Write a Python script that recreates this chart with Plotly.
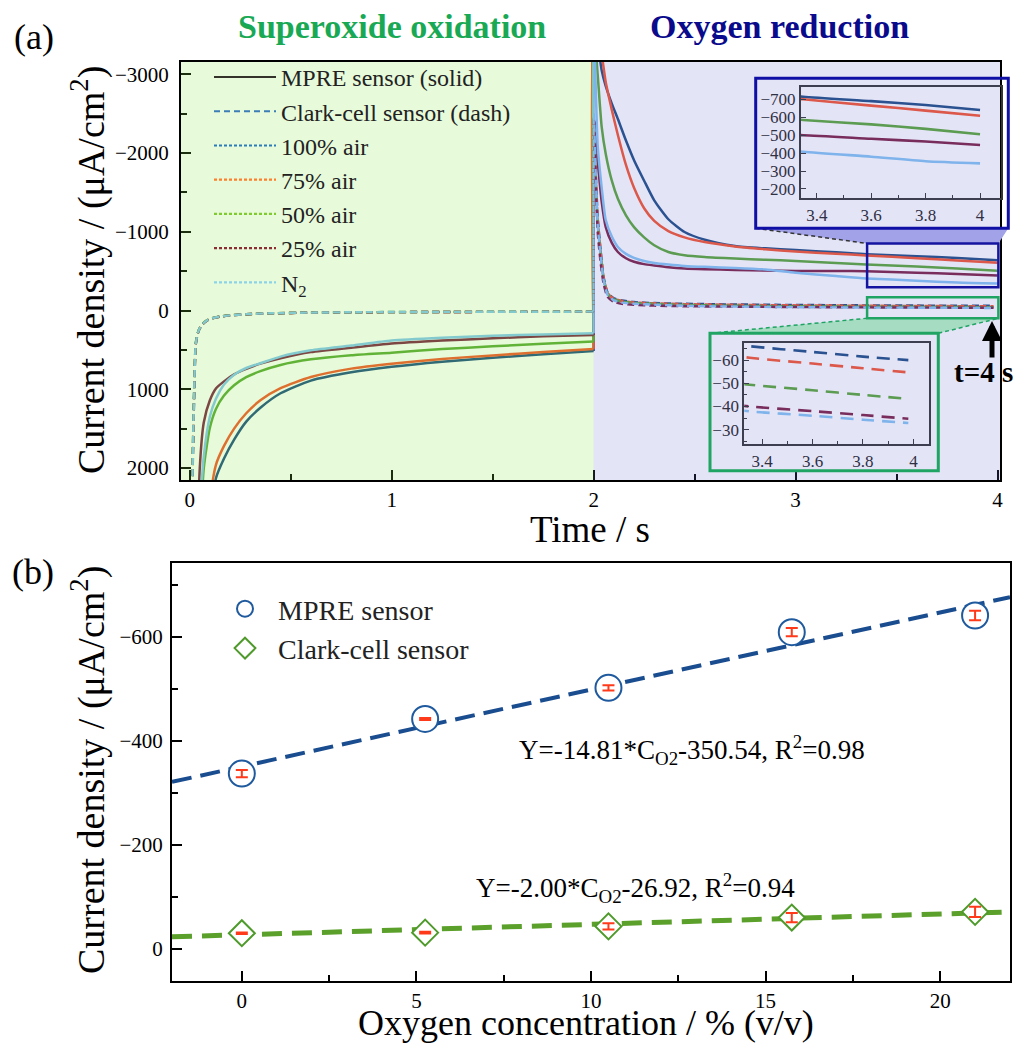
import plotly.graph_objects as go

W, H = 1013, 1045
def px(x): return x / W
def py(y): return 1 - y / H

# ---------------- panel (a) data : chronoamperometry ----------------
T_SOLID = [0.03, 0.05, 0.07, 0.10, 0.13, 0.17, 0.22, 0.28, 0.35, 0.45,
           0.60, 0.80, 1.00, 1.25, 1.50, 1.75, 2.00,
           2.001, 2.02, 2.04, 2.06, 2.09, 2.12, 2.16, 2.20, 2.25, 2.30,
           2.37, 2.45, 2.55, 2.70, 2.85, 3.00, 3.20, 3.35, 3.60, 3.80, 4.00]

MPRE_100 = [5000, 4500, 3800, 2800, 2130, 1880, 1640, 1411, 1235, 1051,
            890, 785, 715, 650, 600, 555, 513,
            -3600, -3400, -3050, -2850, -2630, -2433, -2160, -1910, -1650, -1400,
            -1160, -998, -900, -820, -790, -768, -740, -714, -690, -668, -640]
MPRE_75 = [5000, 4500, 3800, 2450, 1960, 1720, 1500, 1305, 1140, 987,
           845, 738, 675, 615, 570, 527, 487,
           -3600, -3500, -3250, -2900, -2550, -2230, -1850, -1560, -1300, -1140,
           -1010, -930, -870, -815, -780, -750, -722, -700, -665, -637, -608]
MPRE_50 = [5000, 3000, 2000, 1490, 1250, 1080, 950, 847, 770, 691,
           620, 568, 535, 490, 455, 422, 392,
           -3600, -3000, -2330, -1990, -1650, -1420, -1210, -1060, -930, -830,
           -744, -703, -680, -660, -645, -630, -605, -585, -560, -535, -505]
MPRE_25 = [4000, 2000, 1420, 1140, 990, 900, 810, 740, 675, 606,
           528, 472, 420, 382, 352, 328, 310,
           -2450, -1900, -1380, -1060, -860, -744, -665, -620, -590, -572,
           -550, -534, -525, -516, -508, -504, -502, -500, -480, -465, -445]
MPRE_N2 = [4000, 2600, 1850, 1347, 1120, 940, 815, 730, 670, 585,
           505, 445, 380, 345, 320, 303, 289,
           -3600, -2100, -1560, -1150, -940, -808, -720, -670, -630, -605,
           -585, -567, -555, -542, -522, -480, -438, -408, -380, -355, -343]

T_DASH = [0.000, 0.010, 0.020, 0.030, 0.040, 0.050, 0.065, 0.085, 0.110, 0.150,
          0.200, 0.280, 0.400, 0.600, 0.900, 1.300, 1.700, 2.000,
          2.001, 2.010, 2.020, 2.035, 2.050, 2.070, 2.100, 2.140, 2.200, 2.300,
          2.450, 2.650, 2.900, 3.150, 3.350, 3.600, 3.800, 3.980]

CLARK_100 = [3500, 2600, 1300, 430, 290, 225, 170, 127, 100, 78,
             62, 47, 36, 27, 21, 18, 16, 15,
             -2450, -1800, -1200, -760, -420, -225, -156, -128, -108, -95,
             -86, -79, -73, -69, -66, -63.5, -61.5, -60]
CLARK_75 = [3500, 2550, 1250, 420, 285, 222, 168, 126, 99, 77,
            61, 46, 35, 27, 21, 18, 16, 15,
            -2400, -1750, -1150, -740, -410, -220, -150, -122, -104, -92,
            -82, -75, -68, -64, -61, -58.5, -56.5, -54.7]
CLARK_50 = [3500, 2500, 1200, 410, 282, 220, 166, 125, 98, 76,
            60, 46, 35, 26, 20, 17, 15, 14,
            -2350, -1700, -1100, -720, -400, -210, -142, -114, -97, -85,
            -72, -63, -56, -52, -49.4, -47, -45, -43.3]
CLARK_25 = [3500, 2650, 1350, 440, 295, 228, 172, 129, 101, 78,
            62, 47, 36, 27, 21, 18, 16, 15,
            -2450, -1650, -1000, -600, -330, -170, -110, -85, -72, -62,
            -55, -50, -46, -42.5, -40, -38, -36.3, -34.7]
CLARK_N2 = [3500, 2600, 1280, 425, 288, 224, 169, 126, 99, 77,
            61, 46, 35, 26, 20, 17, 15, 14,
            -2500, -1750, -1100, -680, -380, -195, -130, -100, -86, -75,
            -60, -52, -45, -40.5, -37.9, -36, -34.3, -32.9]

GAS_LABELS = ["100% air", "75% air", "50% air", "25% air", "N<sub>2</sub>"]
CURVE_COLORS = ["#1b4b80", "#f4532a", "#58a734", "#7a1e42", "#83c3f0"]
LEGEND_COLORS = ["#2b7bb9", "#ff7f2a", "#7fcc2e", "#8c2d32", "#8dd3e8"]
SOLID_SERIES = [MPRE_100, MPRE_75, MPRE_50, MPRE_25, MPRE_N2]
DASH_SERIES = [CLARK_100, CLARK_75, CLARK_50, CLARK_25, CLARK_N2]
STEP_T = 2.0   # potential step time (s)

# ---------------- panel (b) data : calibration ----------------
O2_CONC = [0, 5.25, 10.5, 15.75, 21]
MPRE_J = [-337, -442, -502, -609, -641]
MPRE_ERR = [7, 2, 5, 8, 9]
CLARK_J = [-30, -31, -43, -60, -71]
CLARK_ERR = [1.5, 1.5, 6, 9, 10]
FIT_X = [-2, 22]
MPRE_FIT = (-14.81, -350.54)   # slope, intercept
CLARK_FIT = (-2.00, -26.92)

# ---------------- geometry ----------------
XR_A = [-0.043, 4.012]
YR_A = [2153, -3158]
XDOM_A = [px(181), px(1000)]
YDOM_A = [py(480), py(62)]
ZOOM_T = [3.354, 4.004]
ZOOM1_J = [-853, -295]
ZOOM2_J = [-169, 98]

def d2p_x(t):
    return XDOM_A[0] + (t - XR_A[0]) / (XR_A[1] - XR_A[0]) * (XDOM_A[1] - XDOM_A[0])

def d2p_y(v):
    return YDOM_A[0] + (v - YR_A[0]) / (YR_A[1] - YR_A[0]) * (YDOM_A[1] - YDOM_A[0])

def split(ts, ys):
    """left branch (t<=step) and right branch (starting from the last left point)"""
    k = max(i for i, t in enumerate(ts) if t <= STEP_T)
    return (ts[:k + 1], ys[:k + 1]), (ts[k:], ys[k:])

FONT = "Liberation Serif"
fig = go.Figure()

def add_curve(ts, ys, col, width, dash, xa, ya):
    for seg_t, seg_y in split(ts, ys):
        fig.add_trace(go.Scatter(x=seg_t, y=seg_y, mode="lines", xaxis=xa, yaxis=ya,
                                 line=dict(color=col, width=width, dash=dash,
                                           shape="spline", smoothing=0.6),
                                 showlegend=False, hoverinfo="skip"))

for ys, col in zip(SOLID_SERIES, CURVE_COLORS):
    add_curve(T_SOLID, ys, col, 2.5, "solid", "x", "y")
for ys, col in zip(DASH_SERIES, CURVE_COLORS):
    add_curve(T_DASH, ys, col, 2.4, "7px,4px", "x", "y")
for ys, col in zip(SOLID_SERIES, CURVE_COLORS):
    add_curve(T_SOLID, ys, col, 2.6, "solid", "x3", "y3")
for ys, col in zip(DASH_SERIES, CURVE_COLORS):
    add_curve(T_DASH, ys, col, 2.6, "13px,8px", "x4", "y4")

# legend entries of panel (a)
fig.add_trace(go.Scatter(x=[None], y=[None], mode="lines", xaxis="x", yaxis="y",
                         name="MPRE sensor (solid)", line=dict(color="#33332a", width=2),
                         legend="legend"))
fig.add_trace(go.Scatter(x=[None], y=[None], mode="lines", xaxis="x", yaxis="y",
                         name="Clark-cell sensor (dash)",
                         line=dict(color="#3d7db5", width=2, dash="6px,4px"),
                         legend="legend"))
for lab, col in zip(GAS_LABELS, LEGEND_COLORS):
    fig.add_trace(go.Scatter(x=[None], y=[None], mode="lines", xaxis="x", yaxis="y",
                             name=lab, line=dict(color=col, width=2.2, dash="3px,2px"),
                             legend="legend"))

# ---------------- panel (b) traces ----------------
fig.add_trace(go.Scatter(x=FIT_X, y=[MPRE_FIT[0] * x + MPRE_FIT[1] for x in FIT_X],
                         mode="lines", xaxis="x2", yaxis="y2", showlegend=False,
                         line=dict(color="#1a4d8f", width=4, dash="20px,9px"),
                         hoverinfo="skip"))
fig.add_trace(go.Scatter(x=FIT_X, y=[CLARK_FIT[0] * x + CLARK_FIT[1] for x in FIT_X],
                         mode="lines", xaxis="x2", yaxis="y2", showlegend=False,
                         line=dict(color="#5ba02a", width=5, dash="20px,10px"),
                         hoverinfo="skip"))
fig.add_trace(go.Scatter(x=O2_CONC, y=MPRE_J, mode="markers", xaxis="x2", yaxis="y2",
                         name="MPRE sensor", legend="legend2",
                         marker=dict(symbol="circle", size=26, color="white",
                                     line=dict(color="#1f5a9e", width=2))))
fig.add_trace(go.Scatter(x=O2_CONC, y=CLARK_J, mode="markers", xaxis="x2", yaxis="y2",
                         name="Clark-cell sensor", legend="legend2",
                         marker=dict(symbol="diamond", size=20, color="white",
                                     line=dict(color="#4e9a2a", width=2))))
for ys, es in ((MPRE_J, MPRE_ERR), (CLARK_J, CLARK_ERR)):
    fig.add_trace(go.Scatter(x=O2_CONC, y=ys, mode="markers", xaxis="x2", yaxis="y2",
                             showlegend=False, hoverinfo="skip",
                             marker=dict(size=1, opacity=0),
                             error_y=dict(type="data", array=es, visible=True,
                                          color="#ff3a1a", thickness=2, width=6)))

# ---------------- axes ----------------
def main_axis(**kw):
    d = dict(showline=True, linecolor="black", linewidth=2, mirror=True,
             ticks="inside", ticklen=10, tickwidth=1.5, tickcolor="black",
             showgrid=False, zeroline=False, automargin=False,
             tickfont=dict(family=FONT, size=21, color="black"))
    d.update(kw)
    return d

def inset_axis(**kw):
    d = dict(showline=True, linecolor="#333333", linewidth=2, mirror=True,
             ticks="inside", ticklen=5, tickwidth=1.2, tickcolor="#333333",
             showgrid=False, zeroline=False, automargin=False,
             tickfont=dict(family=FONT, size=17, color="#222222"))
    d.update(kw)
    return d

layout_axes = dict(
    xaxis=main_axis(domain=XDOM_A, range=XR_A, anchor="y", dtick=1, tick0=0,
                    minor=dict(dtick=0.5, tick0=0, ticks="inside", ticklen=6,
                               tickwidth=1.5, tickcolor="black")),
    yaxis=main_axis(domain=YDOM_A, range=YR_A, anchor="x", dtick=1000, tick0=0,
                    ticklabelstandoff=6,
                    minor=dict(dtick=500, tick0=0, ticks="inside", ticklen=6,
                               tickwidth=1.5, tickcolor="black")),
    xaxis2=main_axis(domain=[px(172), px(1010)], range=[-2, 22], anchor="y2",
                     dtick=5, tick0=0,
                     minor=dict(dtick=2.5, tick0=0, ticks="inside", ticklen=6,
                                tickwidth=1.5, tickcolor="black")),
    yaxis2=main_axis(domain=[py(981), py(563)], range=[62, -742], anchor="x2",
                     dtick=200, tick0=0, ticklabelstandoff=3,
                     minor=dict(dtick=100, tick0=0, ticks="inside", ticklen=6,
                                tickwidth=1.5, tickcolor="black")),
    xaxis3=inset_axis(domain=[px(801), px(1001)], range=[3.342, 4.077], anchor="y3",
                      dtick=0.2, tick0=3.4,
                      minor=dict(dtick=0.1, tick0=3.4, ticks="inside", ticklen=3,
                                 tickcolor="#333333")),
    yaxis3=inset_axis(domain=[py(198.3), py(87.3)], range=[-148, -767], anchor="x3",
                      dtick=100, tick0=0),
    xaxis4=inset_axis(domain=[px(744.3), px(929)], range=[3.329, 4.062], anchor="y4",
                      dtick=0.2, tick0=3.4,
                      minor=dict(dtick=0.1, tick0=3.4, ticks="inside", ticklen=3,
                                 tickcolor="#333333")),
    yaxis4=inset_axis(domain=[py(444.3), py(342.7)], range=[-23.7, -67.5], anchor="x4",
                      dtick=10, tick0=0,
                      minor=dict(dtick=5, tick0=0, ticks="inside", ticklen=3,
                                 tickcolor="#333333")),
)

# ---------------- shapes ----------------
shapes = [
    dict(type="rect", xref="x", yref="y domain", x0=XR_A[0], x1=STEP_T, y0=0, y1=1,
         fillcolor="rgba(135,230,70,0.2)", line=dict(width=0), layer="above"),
    dict(type="rect", xref="x", yref="y domain", x0=STEP_T, x1=XR_A[1], y0=0, y1=1,
         fillcolor="rgba(110,110,215,0.19)", line=dict(width=0), layer="above"),
]
b_path = (f"M {px(755.7)},{py(228.3)} L {px(1008.3)},{py(228.3)} "
          f"L {d2p_x(ZOOM_T[1])},{d2p_y(ZOOM1_J[0])} L {d2p_x(ZOOM_T[0])},{d2p_y(ZOOM1_J[0])} Z")
shapes.append(dict(type="path", xref="paper", yref="paper", path=b_path,
                   fillcolor="#a2a2e8", line=dict(width=0), layer="above"))
shapes.append(dict(type="line", xref="paper", yref="paper", x0=px(755.7), y0=py(228.3),
                   x1=d2p_x(ZOOM_T[0]), y1=d2p_y(ZOOM1_J[0]),
                   line=dict(color="#333333", width=1.5, dash="4px,3px"), layer="above"))
g_path = (f"M {d2p_x(ZOOM_T[0])},{d2p_y(ZOOM2_J[1])} L {d2p_x(ZOOM_T[1])},{d2p_y(ZOOM2_J[1])} "
          f"L {px(938.3)},{py(333.3)} L {px(710)},{py(333.3)} Z")
shapes.append(dict(type="path", xref="paper", yref="paper", path=g_path,
                   fillcolor="#a6dcc2", line=dict(width=0), layer="above"))
shapes.append(dict(type="line", xref="paper", yref="paper", x0=px(710), y0=py(333.3),
                   x1=d2p_x(ZOOM_T[0]), y1=d2p_y(ZOOM2_J[1]),
                   line=dict(color="#1fa463", width=1.5, dash="4px,3px"), layer="above"))
shapes.append(dict(type="line", xref="paper", yref="paper", x0=px(938.3), y0=py(333.3),
                   x1=d2p_x(ZOOM_T[1]), y1=d2p_y(ZOOM2_J[1]),
                   line=dict(color="#1fa463", width=1.5, dash="4px,3px"), layer="above"))
shapes.append(dict(type="rect", xref="x", yref="y", x0=ZOOM_T[0], x1=ZOOM_T[1],
                   y0=ZOOM1_J[0], y1=ZOOM1_J[1], line=dict(color="#1414a0", width=2.5),
                   layer="above"))
shapes.append(dict(type="rect", xref="x", yref="y", x0=ZOOM_T[0], x1=ZOOM_T[1],
                   y0=ZOOM2_J[0], y1=ZOOM2_J[1], line=dict(color="#1fa463", width=2.5),
                   layer="above"))
shapes.append(dict(type="rect", xref="paper", yref="paper", x0=px(755.7), x1=px(1008.3),
                   y0=py(228.3), y1=py(78.3), line=dict(color="#0f0fa5", width=3),
                   layer="above"))
shapes.append(dict(type="rect", xref="paper", yref="paper", x0=px(710), x1=px(938.3),
                   y0=py(470.7), y1=py(333.3), line=dict(color="#1fa463", width=3),
                   layer="above"))

# ---------------- annotations ----------------
def txt(text, x, y, size, color="black", bold=False, angle=0, xanchor="center"):
    return dict(text=f"<b>{text}</b>" if bold else text, x=px(x), y=py(y),
                xref="paper", yref="paper", showarrow=False, textangle=angle,
                xanchor=xanchor, yanchor="middle",
                font=dict(family=FONT, size=size, color=color))

annotations = [
    txt("(a)", 34, 37, 36),
    txt("(b)", 33, 572, 36),
    txt("Superoxide oxidation", 392, 27, 34, color="#19a955", bold=True),
    txt("Oxygen reduction", 779, 27, 34, color="#0a0a8c", bold=True),
    txt("Current density / (μA/cm<sup>2</sup>)", 88, 270, 38, angle=-90),
    txt("Time / s", 590, 529, 37),
    txt("Current density / (μA/cm<sup>2</sup>)", 88, 770, 38, angle=-90),
    txt("Oxygen concentration / % (v/v)", 586, 1023, 36),
    txt(f"Y={MPRE_FIT[0]:.2f}*C<sub>O2</sub>{MPRE_FIT[1]:.2f}, R<sup>2</sup>=0.98", 692, 750, 27),
    txt(f"Y={CLARK_FIT[0]:.2f}*C<sub>O2</sub>{CLARK_FIT[1]:.2f}, R<sup>2</sup>=0.94", 635, 888, 27),
    txt("t=4 s", 952, 372, 29, bold=True, xanchor="left"),
    dict(text="", x=px(992), y=py(321), xref="paper", yref="paper", showarrow=True,
         ax=0, ay=38, arrowhead=2, arrowsize=0.8, arrowwidth=5, arrowcolor="black",
         standoff=0, startstandoff=0),
]

fig.update_layout(
    template="none",
    width=W, height=H, margin=dict(l=0, r=0, t=0, b=0),
    paper_bgcolor="white", plot_bgcolor="rgba(0,0,0,0)",
    font=dict(family=FONT, color="black"),
    showlegend=True,
    legend=dict(x=px(209), y=py(55), xanchor="left", yanchor="top",
                bgcolor="rgba(0,0,0,0)", borderwidth=0, itemwidth=62,
                font=dict(family=FONT, size=24, color="#222222"), tracegroupgap=0),
    legend2=dict(x=px(212), y=py(584), xanchor="left", yanchor="top",
                 bgcolor="rgba(0,0,0,0)", borderwidth=0, itemwidth=56,
                 font=dict(family=FONT, size=28, color="#222222")),
    shapes=shapes,
    annotations=annotations,
    **layout_axes,
)

fig.write_html("out.html", config={"displayModeBar": False},
               post_script="document.body.style.margin='0px';"
                           "document.body.style.padding='0px';"
                           "document.body.style.overflow='hidden';")
